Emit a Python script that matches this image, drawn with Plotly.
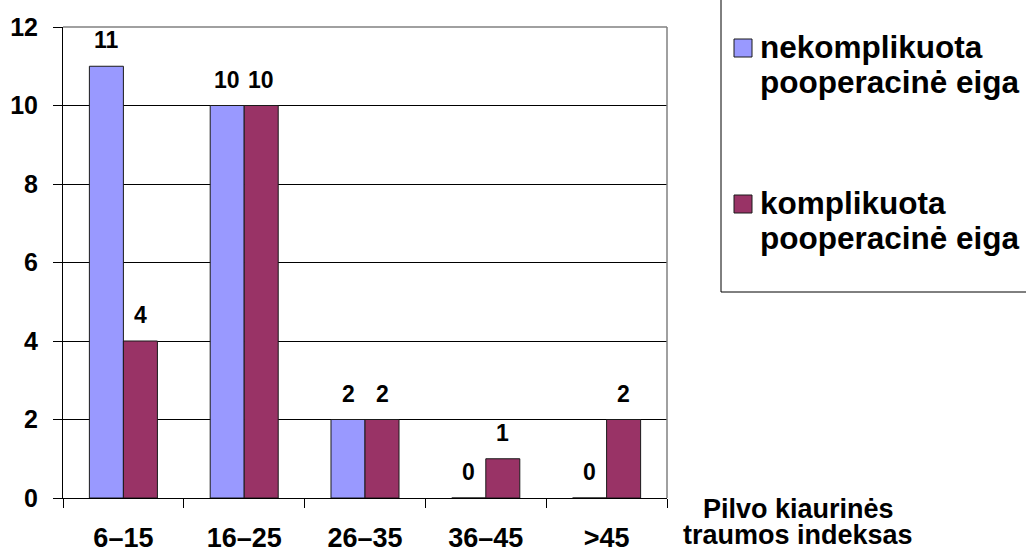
import plotly.graph_objects as go

# Trauma index groups and patient counts per post-operative course
categories = ["6–15", "16–25", "26–35", "36–45", ">45"]
uncomplicated = [11, 10, 2, 0, 0]
complicated = [4, 10, 2, 1, 2]
series_lines = [["nekomplikuota", "pooperacinė eiga"], ["komplikuota", "pooperacinė eiga"]]
series_colors = ["#9999FF", "#993366"]
y_tick_values = [0, 2, 4, 6, 8, 10, 12]
x_axis_title_lines = ["Pilvo kiaurinės", "traumos indeksas"]

FONT = "Liberation Sans, Arial, sans-serif"
W, H = 1026, 551
# plot-area edges in page pixels
L, R, T, B = 63, 667, 27, 498


def px(x):
    return (x - L) / (R - L)


def py(y):
    return (B - y) / (B - T)


def bold(size):
    return dict(family=FONT, size=size, color="black", weight="bold")


fig = go.Figure()
series = [uncomplicated, complicated]
for lines, values, color in zip(series_lines, series, series_colors):
    fig.add_trace(go.Bar(
        x=categories, y=values, name=" ".join(lines),
        marker=dict(color=color, line=dict(color="#1a1a1a", width=1)),
        showlegend=False,
    ))

# value labels above each bar
annotations = []
bar_half = 17
for idx, values in enumerate(series):
    shift = -bar_half if idx == 0 else bar_half
    for cat, v in zip(categories, values):
        annotations.append(dict(
            x=cat, y=v, xref="x", yref="y", text=str(v), showarrow=False,
            xshift=shift, yshift=11, yanchor="bottom", font=bold(23),
        ))

# axis title at the lower right, two tight lines
for line, yc in zip(x_axis_title_lines, [508.5, 534.5]):
    annotations.append(dict(
        x=px(798), y=py(yc), xref="paper", yref="paper", text=line,
        showarrow=False, xanchor="center", yanchor="middle", font=bold(27),
    ))

# legend: swatches and labels
shapes = []
legend_rows = [39, 195]
for lines, color, top in zip(series_lines, series_colors, legend_rows):
    shapes.append(dict(
        type="rect", xref="paper", yref="paper",
        x0=px(734), x1=px(752), y0=py(top + 18), y1=py(top),
        fillcolor=color, line=dict(color="#1a1a1a", width=1),
    ))
    for k, line in enumerate(lines):
        annotations.append(dict(
            x=px(758), y=py(top + 8 + 35 * k), xref="paper", yref="paper",
            text=line, showarrow=False, xanchor="left", yanchor="middle",
            font=bold(31.5),
        ))

# legend frame (runs off the top and right of the page)
shapes.append(dict(
    type="rect", xref="paper", yref="paper",
    x0=px(721), x1=px(1060), y0=py(292), y1=py(-20),
    line=dict(color="black", width=1), fillcolor="rgba(0,0,0,0)",
))

# grey plot-area border on top and right
shapes.append(dict(type="line", xref="paper", yref="paper", x0=0, x1=1, y0=1, y1=1,
                   line=dict(color="#808080", width=1.5)))
shapes.append(dict(type="line", xref="paper", yref="paper", x0=1, x1=1, y0=0, y1=1,
                   line=dict(color="#808080", width=1.5)))

fig.update_layout(
    width=W, height=H,
    margin=dict(l=L, r=W - R, t=T, b=H - B, pad=0),
    paper_bgcolor="white", plot_bgcolor="white",
    barmode="group", bargap=0.437, bargroupgap=0,
    annotations=annotations, shapes=shapes,
    font=dict(family=FONT, color="black"),
)
fig.update_xaxes(
    type="category", tickson="boundaries", automargin=False,
    ticks="outside", ticklen=9, tickcolor="black", tickwidth=1,
    showline=True, linecolor="black", linewidth=1,
    showgrid=False, ticklabelstandoff=16,
    tickfont=bold(27),
)
fig.update_yaxes(
    range=[0, 12], tickvals=y_tick_values, automargin=False,
    ticks="outside", ticklen=9, tickcolor="black", tickwidth=1,
    showline=True, linecolor="black", linewidth=1,
    showgrid=True, gridcolor="black", gridwidth=1,
    zeroline=False, ticklabelstandoff=10,
    tickfont=bold(25),
)

fig.write_html("out.html")
